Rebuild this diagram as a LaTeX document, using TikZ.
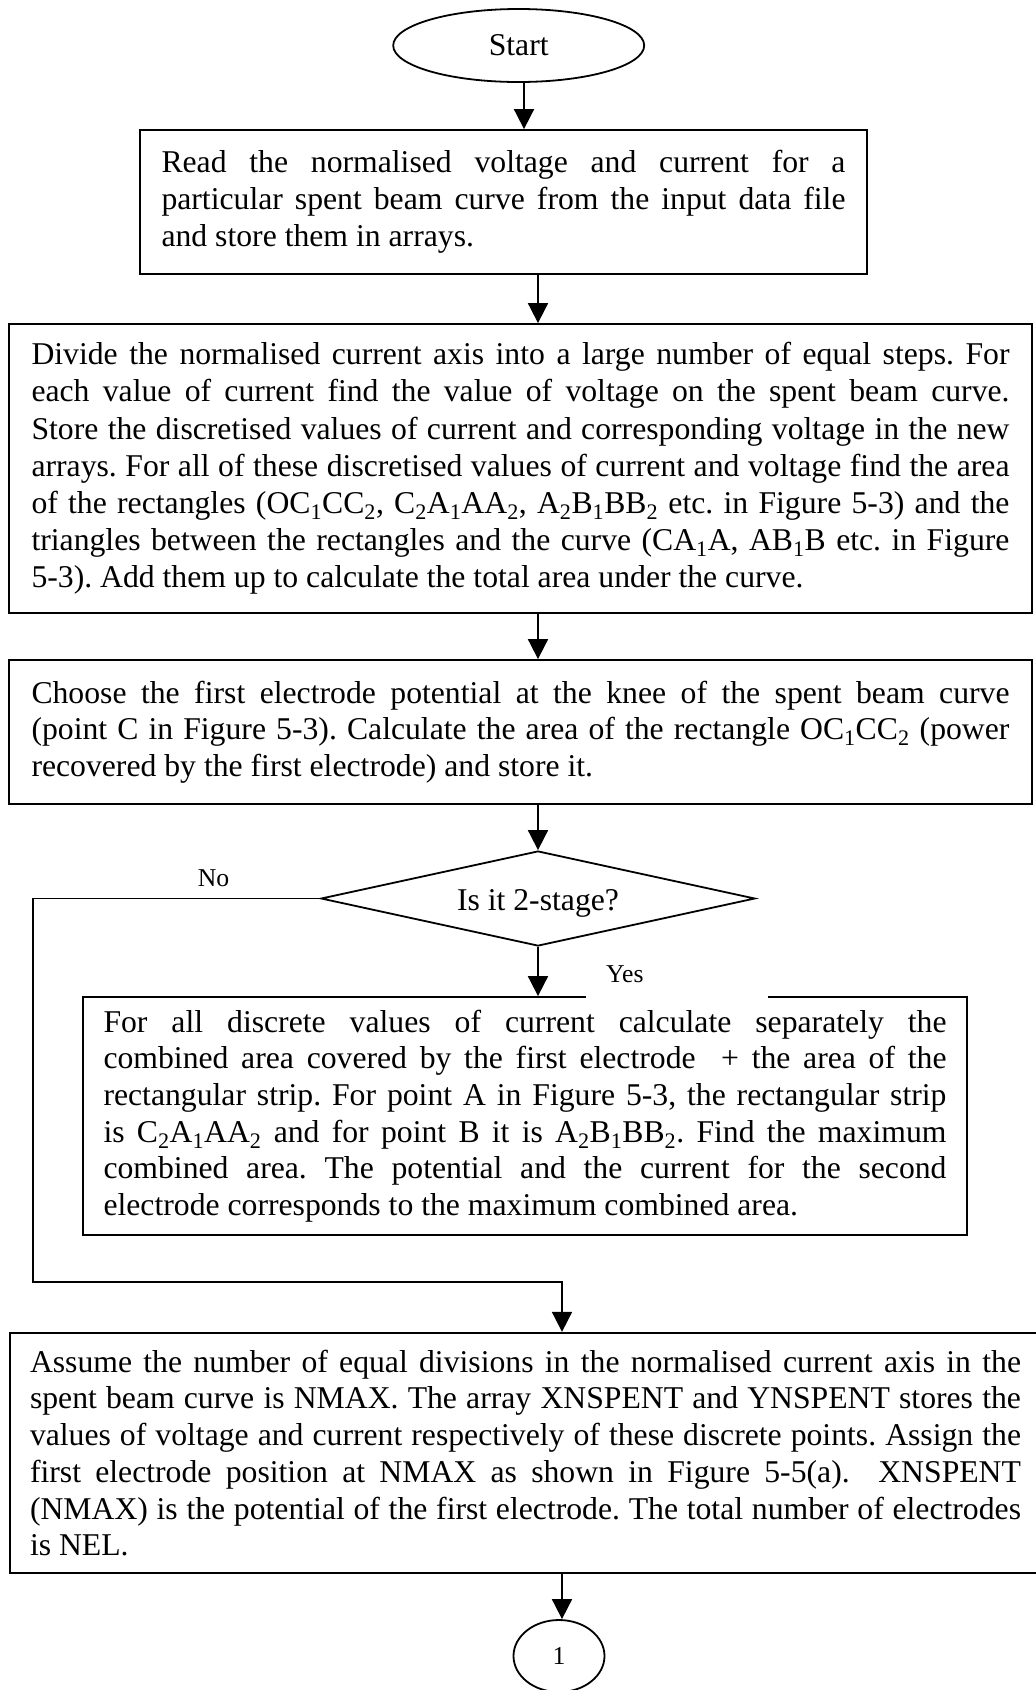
\documentclass[tikz,border=0pt]{standalone}
\usepackage{fontspec}
\setmainfont{Liberation Serif}
\usetikzlibrary{arrows.meta,shapes.geometric}
\tolerance=10000
\hyphenpenalty=10000
\exhyphenpenalty=10000
\emergencystretch=30pt
\hbadness=10000
\frenchspacing

\newcommand\bodytext[1]{\fontsize{31.7pt}{#1}\selectfont}
\newcommand\labeltext{\fontsize{25.7pt}{30pt}\selectfont}
\newcommand\sub[1]{\textsubscript{#1}}

\tikzset{
  flow/.style={line width=1.8pt, -{Triangle[length=20pt,width=20pt]}},
  stepbox/.style={draw, rectangle, line width=1.8pt, inner ysep=0pt, align=justify},
  terminal/.style={draw, ellipse, line width=1.8pt, inner sep=0pt},
  decision/.style={draw, diamond, line width=1.8pt, inner sep=0pt, font=\bodytext{36pt}},
  lbl/.style={inner sep=0pt, font=\labeltext},
  yesbox/.style={fill=white, rectangle, inner xsep=20pt, inner ysep=0pt, minimum width=182pt,
                 minimum height=50pt, text width=142pt, align=left, font=\labeltext},
}

\begin{document}
\begin{tikzpicture}[x=1pt,y=-1pt]
\useasboundingbox (0,0) rectangle (1036,1690);

% start terminal
\node[terminal, minimum width=251pt, minimum height=73pt, font=\bodytext{36pt}] (start) at (518.7,45.5) {Start};

% processing steps
\node[stepbox, text width=684pt, inner xsep=21.5pt, minimum height=144pt, font=\bodytext{37pt}] (read) at (503.5,202)
{Read the normalised voltage and current for a\linebreak
particular spent beam curve from the input data file\linebreak
and store them in arrays.};

\node[stepbox, text width=978pt, inner xsep=22.5pt, minimum height=289pt, font=\bodytext{37.2pt}] (divide) at (520.5,468.5)
{Divide the normalised current axis into a large number of equal steps. For\linebreak
each value of current find the value of voltage on the spent beam curve.\linebreak
Store the discretised values of current and corresponding voltage in the new\linebreak
arrays. For all of these discretised values of current and voltage find the area\linebreak
of the rectangles (OC\sub{1}CC\sub{2}, C\sub{2}A\sub{1}AA\sub{2}, A\sub{2}B\sub{1}BB\sub{2} etc. in Figure 5-3) and the\linebreak
triangles between the rectangles and the curve (CA\sub{1}A, AB\sub{1}B etc. in Figure\linebreak
5-3). Add them up to calculate the total area under the curve.};

\node[stepbox, text width=978pt, inner xsep=22.5pt, minimum height=144pt, font=\bodytext{36.7pt}] (choose) at (520.5,732)
{Choose the first electrode potential at the knee of the spent beam curve\linebreak
(point C in Figure 5-3). Calculate the area of the rectangle OC\sub{1}CC\sub{2} (power\linebreak
recovered by the first electrode) and store it.};

% decision
\node[decision, minimum width=434pt, minimum height=95pt, aspect=4.57, text height=31.5pt, text depth=7pt] (dia) at (538,898.5) {Is it 2-stage?};

\node[stepbox, text width=843pt, inner xsep=20.5pt, minimum height=238pt, font=\bodytext{36.7pt}] (combine) at (525,1116)
{For all discrete values of current calculate separately the\linebreak
combined area covered by the first electrode \ + the area of the\linebreak
rectangular strip. For point A in Figure 5-3, the rectangular strip\linebreak
is C\sub{2}A\sub{1}AA\sub{2} and for point B it is A\sub{2}B\sub{1}BB\sub{2}. Find the maximum\linebreak
combined area. The potential and the current for the second\linebreak
electrode corresponds to the maximum combined area.};

\node[stepbox, line width=2.3pt, text width=991pt, inner xsep=20pt, minimum height=240pt, font=\bodytext{36.7pt}] (assume) at (525.5,1453)
{Assume the number of equal divisions in the normalised current axis in the\linebreak
spent beam curve is NMAX. The array XNSPENT and YNSPENT stores the\linebreak
values of voltage and current respectively of these discrete points. Assign the\linebreak
first electrode position at NMAX as shown in Figure 5-5(a). \ XNSPENT\linebreak
(NMAX) is the potential of the first electrode. The total number of electrodes\linebreak
is NEL.};

% off-page connector
\node[terminal, minimum width=91pt, minimum height=72pt, font=\labeltext] (conn) at (559,1656) {1};

% branch labels
\node[lbl, anchor=base] (no) at (213.5,886) {No};
\node[yesbox, anchor=south west] (yes) at (586,999) {Yes};

% connectors
\coordinate (sx) at (524,0);
\coordinate (nx) at (562,0);
\coordinate (nb) at (33,1282);

\draw[flow] (start.south -| sx) -- (read.north -| sx);
\draw[flow] (read.south -| dia) -- (divide.north -| dia);
\draw[flow] (divide.south -| dia) -- (choose.north -| dia);
\draw[flow] (choose.south -| dia) -- (dia.north);
\draw[flow] (dia.south) -- (combine.north -| dia);
\draw[flow] (dia.west) -| (nb) -- (nb -| nx) -- (assume.north -| nx);
\draw[flow] (assume.south -| nx) -- (conn.north -| nx);
\end{tikzpicture}
\end{document}
